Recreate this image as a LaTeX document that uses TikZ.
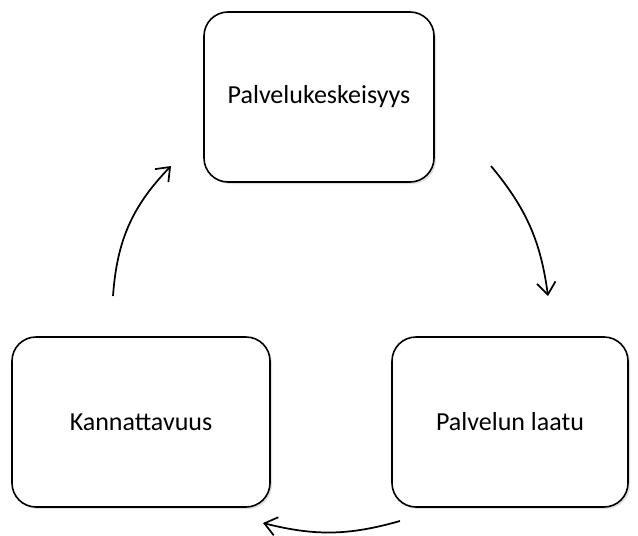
\documentclass[tikz,border=0pt]{standalone}
\usepackage{fontspec}
\setmainfont{Carlito}
\usetikzlibrary{arrows.meta,shadows}

\begin{document}
\begin{tikzpicture}[x=0.75pt,y=-0.75pt,
  box/.style={draw,line width=1.2pt,rounded corners=18pt,fill=white,
    minimum height=127.5pt,font=\fontsize{19.5}{23}\selectfont,
    drop shadow={opacity=0.25,shadow xshift=1.5pt,shadow yshift=-1.5pt}},
  cyc/.style={line width=1.3pt,-{Straight Barb[length=9pt,width=14pt,line width=1.3pt]}}]
  \useasboundingbox (0,0) rectangle (638,535);

  \node [box,minimum width=172.5pt] (P) at (319,97) {Palvelukeskeisyys};
  \node [box,minimum width=177pt] (L) at (510,422) {Palvelun laatu};
  \node [box,minimum width=193.5pt] (K) at (141,422) {Kannattavuus};

  \coordinate (p1) at (491,166);
  \coordinate (p2) at (548,296);
  \coordinate (l1) at (400,521);
  \coordinate (l2) at (263,523);
  \coordinate (k1) at (113,296);
  \coordinate (k2) at (171,166);

  \draw [cyc] (p1) to[bend left=16] (p2);
  \draw [cyc] (l1) to[bend left=15] (l2);
  \draw [cyc] (k1) to[bend left=20] (k2);
\end{tikzpicture}
\end{document}
